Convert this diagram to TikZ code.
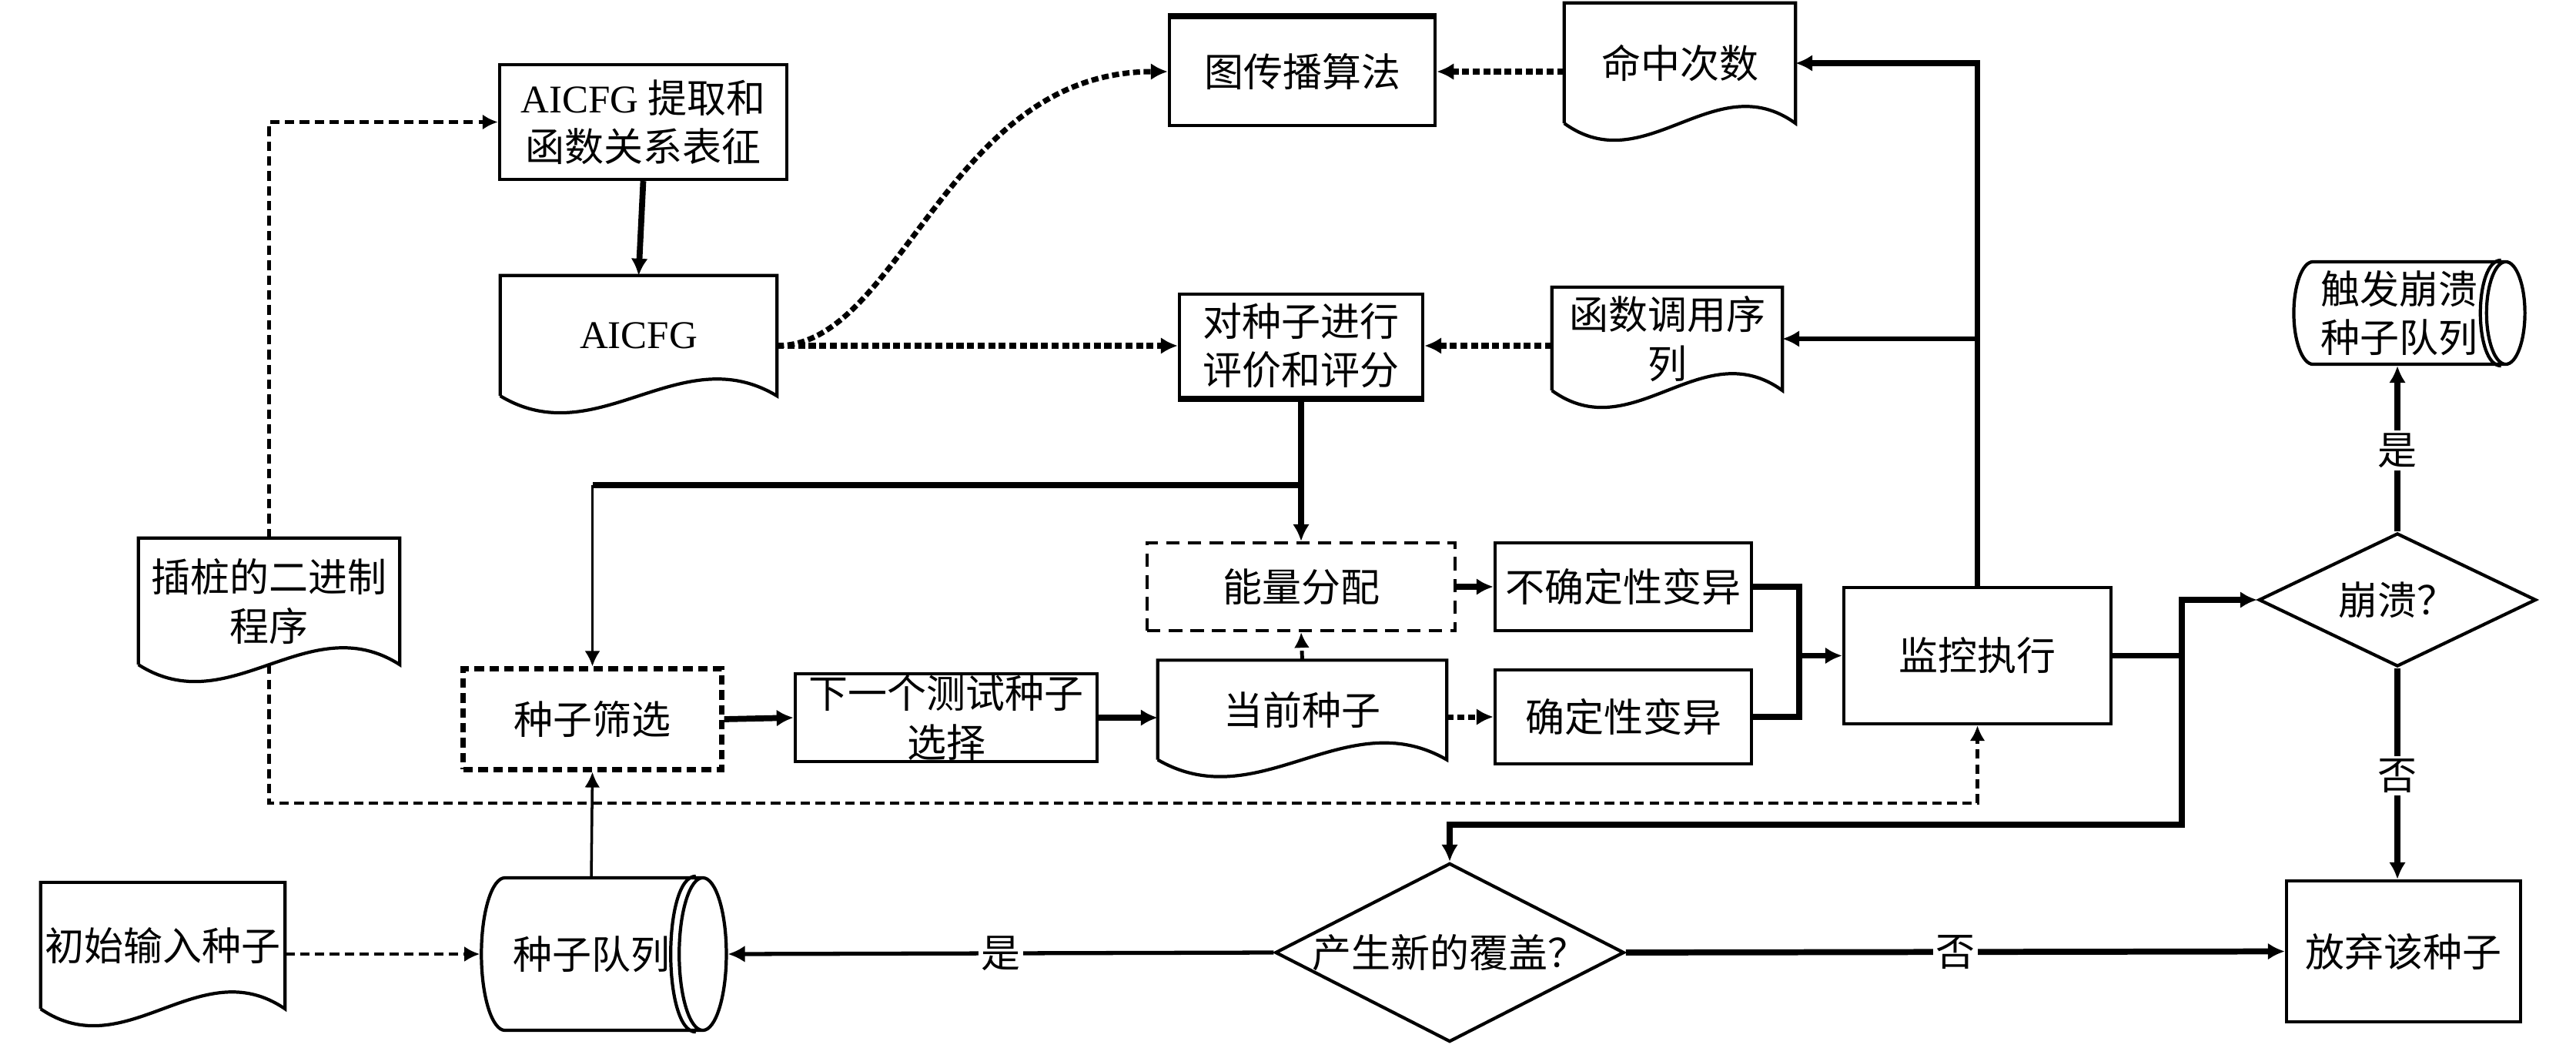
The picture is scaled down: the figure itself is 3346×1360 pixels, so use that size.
\documentclass[tikz,border=0pt]{standalone}
\usepackage{fontspec}
\setmainfont{Liberation Serif}
\newfontfamily\cjk{Noto Sans CJK SC}
\usepackage{tikz}
\usetikzlibrary{shapes.geometric, arrows.meta, positioning, calc}

\begin{document}
\begin{tikzpicture}[x=0.01cm, y=-0.01cm,
    box/.style={draw, line width=1.2pt, font=\cjk\fontsize{14.5}{18}\selectfont, align=center, inner sep=0pt},
    dbox/.style={box, dash pattern=on 5pt off 3pt},
    sbox/.style={box, line width=2pt, dash pattern=on 3.5pt off 2pt},
    doc/.style={box, draw=none},
    cond/.style={box, diamond, aspect=2},
    queue/.style={box, cylinder},
    lbl/.style={fill=white, font=\cjk\fontsize{14.5}{18}\selectfont, inner sep=1pt},
    arrow/.style={-{Latex[length=2.2mm,width=2.2mm]}, line width=2.2pt},
    dotarrow/.style={arrow, line width=2pt, dash pattern=on 2.6pt off 1.3pt},
    dasharrow/.style={-{Latex[length=2mm,width=2mm]}, line width=1.4pt, dash pattern=on 3.5pt off 2pt}
]
    \useasboundingbox (0,0) rectangle (3346,1360);

    % documents and boxes
    \node[box, minimum width=3.73cm, minimum height=1.49cm] (extract) at (835.5,158.5) {\textrm{AICFG} 提取和\\函数关系表征};
    \node[doc, minimum width=3.55cm, minimum height=1.52cm] (aicfg) at (829.5,436) {\textrm{AICFG}};
    \node[box, minimum width=3.45cm, minimum height=1.40cm] (prop) at (1691.5,93) {图传播算法};
    \node[doc, minimum width=2.96cm, minimum height=1.52cm] (hits) at (2182,82) {命中次数};
    \node[box, minimum width=3.16cm, minimum height=1.34cm] (score) at (1690,449) {对种子进行\\评价和评分};
    \node[doc, minimum width=2.95cm, minimum height=1.30cm] (calls) at (2165.5,440) {函数调用序\\列};
    \node[doc, minimum width=3.35cm, minimum height=1.60cm] (stub) at (349.5,781) {插桩的二进制\\程序};
    \node[dbox, minimum width=4.00cm, minimum height=1.14cm] (energy) at (1690,762) {能量分配};
    \node[box, minimum width=3.33cm, minimum height=1.14cm] (havoc) at (2108.5,762) {不确定性变异};
    \node[box, minimum width=3.92cm, minimum height=1.14cm] (next) at (1229,932) {下一个测试种子\\选择};
    \node[doc, minimum width=3.71cm, minimum height=1.25cm] (cur) at (1691.5,922) {当前种子};
    \node[box, minimum width=3.33cm, minimum height=1.22cm] (det) at (2108.5,931) {确定性变异};
    \node[sbox, minimum width=3.35cm, minimum height=1.30cm] (select) at (769.5,934) {种子筛选};
    \node[box, minimum width=3.47cm, minimum height=1.77cm] (monitor) at (2568.5,851.5) {监控执行};
    \node[box, minimum width=3.04cm, minimum height=1.83cm] (discard) at (3122,1235.5) {放弃该种子};
    \node[cond, minimum width=4.53cm, minimum height=2.32cm] (cov) at (1883,1237) {产生新的覆盖？};
    \node[cond, minimum width=3.60cm, minimum height=1.73cm] (crash) at (3114,779) {崩溃？};
    \node[queue, aspect=1.3, minimum height=3.18cm, minimum width=1.98cm] (queue) at (768,1239) {种子队列};
    \node[queue, aspect=0.45, minimum height=3.00cm, minimum width=1.33cm] (crashq) at (3116,406.5) {触发崩溃\\种子队列};
    \node[doc, minimum width=3.13cm, minimum height=1.60cm] (init) at (211.5,1228) {初始输入种子};

    \foreach \d in {aicfg,hits,calls,stub,init,cur}
        \draw[line width=1.2pt] (\d.south west) -- (\d.north west) -- (\d.north east) -- (\d.south east)
            .. controls ($(\d.south east)!0.35!(\d.south west)+(0,-76)$) and ($(\d.south east)!0.65!(\d.south west)+(0,76)$) .. (\d.south west);
    % second rim of the queues
    \foreach \q/\g in {queue/9,crashq/6}
        \draw[line width=1.2pt] let \p1=(\q.east), \p2=(\q.before top), \n1={\x1-\x2} in
            ($(\q.before top)+(-\g,0)$) .. controls +(-1.33*\n1,0) and +(-1.33*\n1,0) .. ($(\q.after top)+(-\g,0)$);
    \draw[line width=2.2pt] (prop.north west) -- (prop.north east);
    \draw[line width=2.2pt] (score.south west) -- (score.south east);

    \coordinate (low) at (2568.5,1043);
    \coordinate (fork) at (1690,630);
    \coordinate (corner) at (769.5,630);
    \coordinate (merge) at (2337,851.5);
    \coordinate (split) at (2834,851.5);
    \coordinate (back) at (2834,1071);

    % connectors
    \draw[dasharrow] (stub.north) |- (extract.west);
    \draw[dasharrow] (stub.south) |- (low) -- (monitor.south);
    \draw[arrow] (extract.south) -- (aicfg.north);
    \draw[dotarrow] (aicfg.east |- score.west) -- (score.west);
    \draw[dotarrow] (aicfg.east |- score.west) .. controls (1170,449) and (1230,93) .. (prop.west);
    \draw[dotarrow] (hits.west |- prop.east) -- (prop.east);
    \draw[dotarrow] (calls.west |- score.east) -- (score.east);
    \draw[arrow] (score.south) -- (energy.north);
    \draw[line width=2.2pt] (fork) -- (corner);
    \draw[-{Latex[length=2mm,width=2mm]}, line width=1pt] (corner) -- (select.north);
    \draw[arrow] (select.east) -- (next.west);
    \draw[arrow] (next.east) -- (next.east -| cur.west);
    \draw[dotarrow] (cur.east |- det.west) -- (det.west);
    \draw[dasharrow] (cur.north) -- (energy.south);
    \draw[arrow] (energy.east) -- (havoc.west);
    \draw[line width=2.2pt] (havoc.east) -| (merge) |- (det.east);
    \draw[arrow] (merge) -- (monitor.west);
    \draw[arrow] (monitor.north) |- (hits.east);
    \draw[arrow, line width=1.8pt] (monitor.north |- calls.east) -- (calls.east);
    \draw[line width=2.2pt] (monitor.east) -- (split);
    \draw[arrow] (split) |- (crash.west);
    \draw[arrow] (split) -- (back) -| (cov.north);
    \draw[arrow] (crash.north) -- (crash.north |- crashq.south) node[lbl, pos=0.49] {是};
    \draw[arrow] (crash.south) -- (crash.south |- discard.north) node[lbl, pos=0.51] {否};
    \draw[arrow] (cov.east) -- (discard.west) node[lbl, pos=0.5] {否};
    \draw[arrow, line width=1.5pt] (cov.west) -- (queue.east) node[lbl, pos=0.5] {是};
    \draw[dasharrow, line width=1pt] (init.east |- queue.west) -- (queue.west);
    \draw[-{Latex[length=2mm,width=2mm]}, line width=1pt] (queue.north) -- (select.south);
\end{tikzpicture}
\end{document}
